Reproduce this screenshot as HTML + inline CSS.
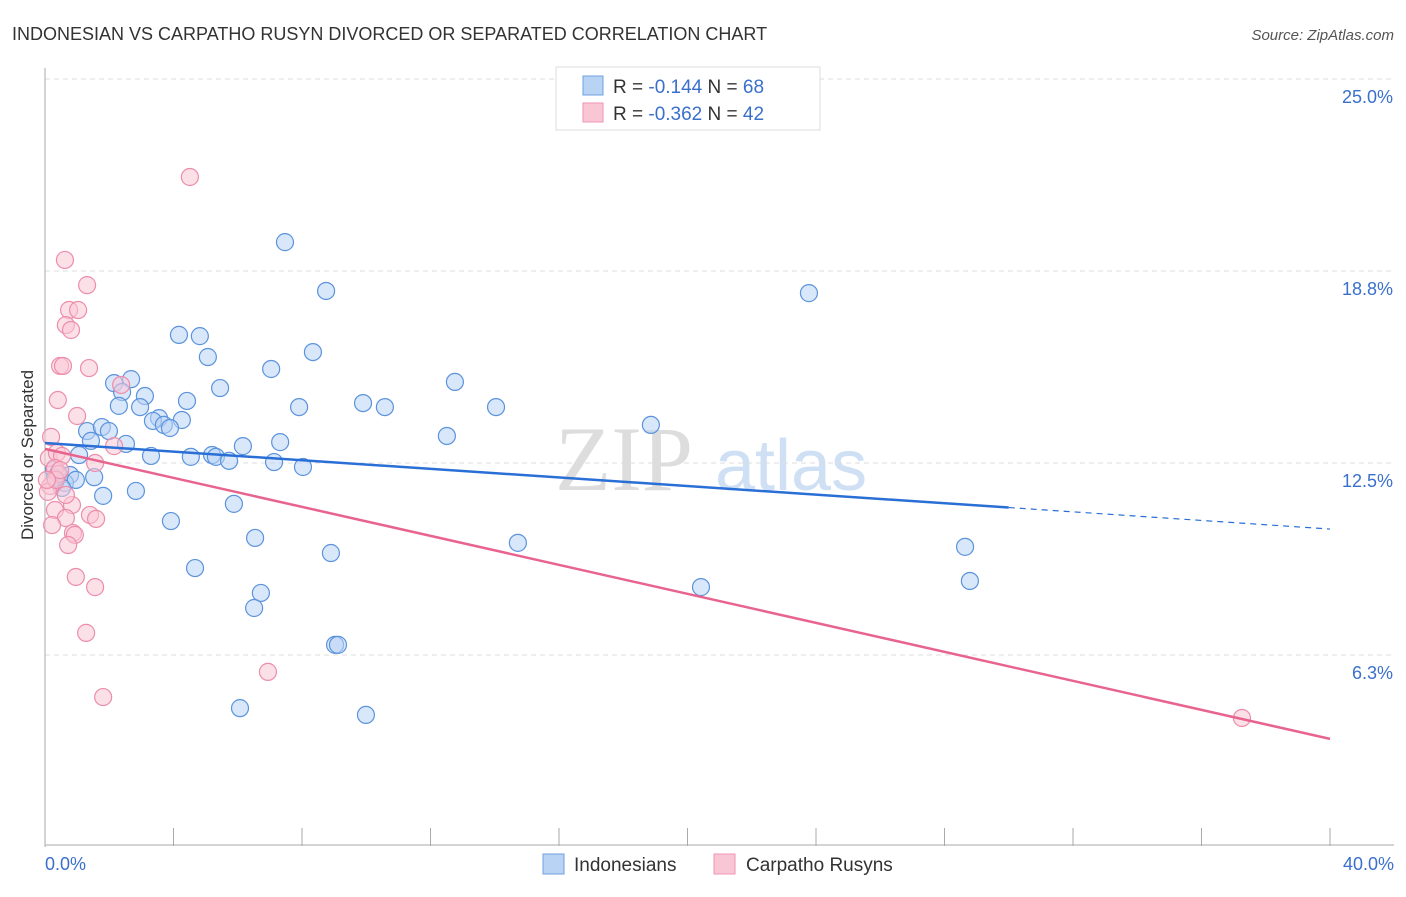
<!DOCTYPE html>
<html><head><meta charset="utf-8"><style>
body{margin:0;background:#fff;font-family:"Liberation Sans",sans-serif}
</style></head><body>
<svg id="chart" width="1406" height="892" xmlns="http://www.w3.org/2000/svg" font-family="Liberation Sans, sans-serif">
<text x="12" y="40" font-size="18" fill="#333">INDONESIAN VS CARPATHO RUSYN DIVORCED OR SEPARATED CORRELATION CHART</text>
<text x="1394" y="40" font-size="15" fill="#555" font-style="italic" text-anchor="end">Source: ZipAtlas.com</text>
<text x="555" y="490" font-size="92" fill="#ddd" font-family="Liberation Serif, serif">ZIP</text>
<text x="715" y="490" font-size="72" fill="#cfe0f5">atlas</text>
<g id="grid"></g><g id="axes"></g><g id="pts"></g><g id="lines"></g>
<text transform="translate(33,455) rotate(-90)" font-size="17" fill="#333" text-anchor="middle">Divorced or Separated</text>
<g>
<rect x="556" y="67" width="264" height="63" fill="#fff" stroke="#ddd"/>
<rect x="583" y="76" width="20" height="19" fill="#b9d3f5" stroke="#6fa0e0"/>
<rect x="583" y="103" width="20" height="19" fill="#f9c6d5" stroke="#ee94b0"/>
<text x="613" y="93" font-size="19" fill="#333">R = <tspan fill="#3a70cc">-0.144</tspan>   N = <tspan fill="#3a70cc">68</tspan></text>
<text x="613" y="120" font-size="19" fill="#333">R = <tspan fill="#3a70cc">-0.362</tspan>   N = <tspan fill="#3a70cc">42</tspan></text>
</g>
<g>
<rect x="543" y="854" width="21" height="20" fill="#b9d3f5" stroke="#6fa0e0"/>
<text x="574" y="871" font-size="19" fill="#333">Indonesians</text>
<rect x="714" y="854" width="21" height="20" fill="#f9c6d5" stroke="#ee94b0"/>
<text x="746" y="871" font-size="19" fill="#333">Carpatho Rusyns</text>
</g>
</svg>
<script>
const blueX=[7.47,8.75,23.78,4.17,4.82,8.34,5.07,7.04,2.15,2.68,12.76,5.45,2.40,3.11,4.42,2.30,2.96,7.91,9.90,10.58,14.04,3.55,3.36,4.26,3.70,3.89,18.86,1.31,1.77,1.99,1.43,2.52,12.51,6.16,7.32,1.06,3.30,4.54,5.20,5.32,5.73,7.13,8.03,0.28,0.44,0.78,0.62,0.96,1.53,0.53,1.81,2.83,5.88,3.92,6.54,8.90,14.72,28.64,4.67,6.72,20.42,28.79,6.51,9.03,9.12,6.07,9.99,0.31];
const blueY=[19.69,18.10,18.03,16.67,16.63,16.11,15.95,15.56,15.10,15.23,15.14,14.94,14.81,14.68,14.52,14.36,14.32,14.32,14.45,14.32,14.32,13.96,13.87,13.90,13.74,13.64,13.74,13.54,13.67,13.54,13.22,13.12,13.38,13.05,13.18,12.76,12.73,12.70,12.76,12.70,12.57,12.53,12.37,12.27,12.14,12.11,11.85,11.95,12.04,11.69,11.43,11.59,11.17,10.61,10.06,9.57,9.90,9.77,9.08,8.27,8.46,8.66,7.78,6.58,6.58,4.52,4.30,12.01];
const pinkX=[4.51,0.62,1.31,0.75,1.03,0.65,0.81,0.47,0.56,1.37,0.40,1.00,2.37,2.15,0.19,0.12,0.37,0.53,0.31,0.40,0.16,0.09,1.56,0.84,1.40,0.31,1.59,0.65,0.22,0.87,0.93,0.72,0.96,1.56,1.28,1.81,6.94,37.26,0.34,0.47,0.06,0.65];
const pinkY=[21.81,19.11,18.29,17.48,17.48,16.99,16.83,15.66,15.66,15.59,14.55,14.03,15.04,13.05,13.35,12.66,12.83,12.73,12.34,12.14,11.75,11.56,12.50,11.13,10.81,10.97,10.68,10.71,10.48,10.22,10.16,9.83,8.79,8.46,6.97,4.88,5.70,4.20,11.95,12.27,11.95,11.46];
const yTicks=[6.25,12.5,18.75,25];
const yTickLabels=["6.3%","12.5%","18.8%","25.0%"];
const xTickLabels=["0.0%","40.0%"];
const blueTrend=[13.15,10.35], pinkTrend=[12.96,3.52], blueSolidEnd=30;
const NS="http://www.w3.org/2000/svg";
const X=v=>45+v/40*1285, Y=v=>847-v*30.72;
function mk(t,a,p){const e=document.createElementNS(NS,t);for(const k in a)e.setAttribute(k,a[k]);document.getElementById(p).appendChild(e);return e;}
yTicks.forEach((t,i)=>{
 const g=mk('line',{x1:45,x2:1394,y1:Y(t),y2:Y(t),stroke:'#ddd','stroke-dasharray':'5,4'},'grid');
 
 
 const l=mk('text',{x:1393,y:Y(t)+24,'font-size':18,fill:'#3a70cc','text-anchor':'end'},'axes');
 l.textContent=yTickLabels[i];
 
 
});
const ax=mk('line',{x1:45,x2:45,y1:68,y2:847,stroke:'#aaa'},'axes');


const bx=mk('line',{x1:45,x2:1394,y1:845,y2:845,stroke:'#aaa'},'axes');


for(let i=1;i<=10;i++){const t=mk('line',{x1:X(i*4),x2:X(i*4),y1:828,y2:846,stroke:'#aaa'},'axes');
 
 }
[[0,'start',45],[40,'end',1394]].forEach((d,i)=>{const t=mk('text',{x:d[2],y:870,'font-size':18,fill:'#3a70cc','text-anchor':d[1]},'axes');t.textContent=xTickLabels[i];
 
 });
function pts(xs,ys,f,s,n){xs.forEach((x,i)=>{const c=mk('circle',{cx:X(x),cy:Y(ys[i]),r:8.5,fill:f,'fill-opacity':0.55,stroke:s,'stroke-width':1.2},'pts');
 
 });}
pts(blueX,blueY,'#b9d3f5','#5b93dc','indonesian-point');
pts(pinkX,pinkY,'#f9c6d5','#ec8eab','carpatho-rusyn-point');
const bAt=v=>blueTrend[0]+(blueTrend[1]-blueTrend[0])*v/40;
const l1=mk('line',{x1:X(0),y1:Y(bAt(0)),x2:X(blueSolidEnd),y2:Y(bAt(blueSolidEnd)),stroke:'#2a6fd6','stroke-width':2.5},'lines');


const l2=mk('line',{x1:X(blueSolidEnd),y1:Y(bAt(blueSolidEnd)),x2:X(40),y2:Y(bAt(40)),stroke:'#2a6fd6','stroke-width':1.2,'stroke-dasharray':'6,5'},'lines');


const l3=mk('line',{x1:X(0),y1:Y(pinkTrend[0]),x2:X(40),y2:Y(pinkTrend[1]),stroke:'#e8648e','stroke-width':2.5},'lines');


</script>
</body></html>
